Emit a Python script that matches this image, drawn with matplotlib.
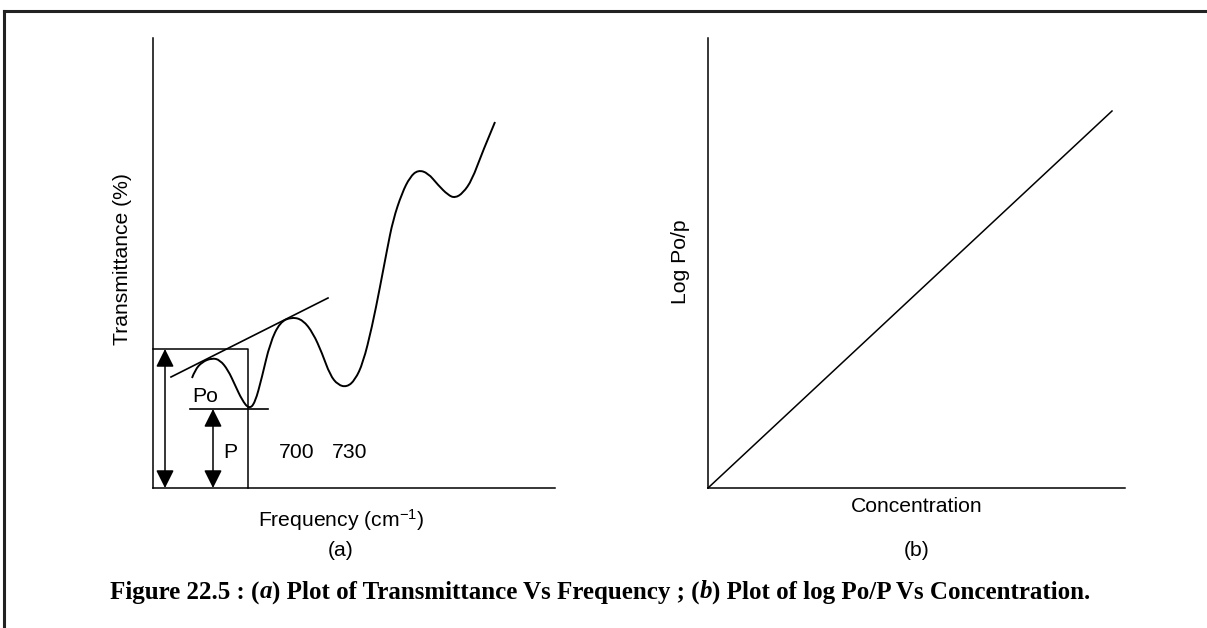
import matplotlib.pyplot as plt
from matplotlib.path import Path
from matplotlib.patches import PathPatch

plt.rcParams['font.family'] = 'Liberation Sans'
plt.rcParams['mathtext.fontset'] = 'custom'
plt.rcParams['mathtext.rm'] = 'Liberation Sans'
plt.rcParams['mathtext.it'] = 'Liberation Sans:italic'

# panel (a): transmittance curve (arbitrary units)
curve_x = [39, 42, 49, 59, 67, 75, 82, 89, 96, 102, 109, 117, 127, 139, 150, 160, 169,
           177, 185, 194, 202, 210, 219, 227, 234, 240, 249, 257, 265, 275, 285, 295,
           302, 310, 319, 329, 342]
curve_t = [110, 118, 126, 130, 128, 118, 103, 88, 79, 85, 111, 145, 166, 171, 168, 155,
           135, 113, 103, 101, 108, 125, 161, 201, 238, 268, 295, 311, 318, 315, 303, 293,
           290, 295, 308, 335, 366]
tangent_x = [18, 175]
tangent_t = [111, 190]
po_level = 139
p_level = 79
box_right = 95
p_line_x = [37, 115]
po_arrow_x = 12
p_arrow_x = 60
wave_labels = ["700", "730"]
wave_label_x = [144, 197]

# panel (b): straight line
conc = [0, 404]
log_ratio = [0, 377]

fig = plt.figure(figsize=(12.07, 6.28), dpi=100)

# frame lines (only top and left edges show)
fig.add_artist(plt.Line2D([4 / 1207, 1], [617 / 628, 617 / 628], color='#222222', lw=2.2,
                          transform=fig.transFigure))
fig.add_artist(plt.Line2D([4 / 1207, 4 / 1207], [0, 617 / 628], color='#222222', lw=2.2,
                          transform=fig.transFigure))

fs = 15.2
lw_ax = 1.1


def bare_axes(rect, xmax):
    ax = fig.add_axes(rect)
    ax.set_xlim(0, xmax)
    ax.set_ylim(0, 450)
    for s in ['top', 'right']:
        ax.spines[s].set_visible(False)
    for s in ['left', 'bottom']:
        ax.spines[s].set_linewidth(lw_ax)
    ax.set_xticks([])
    ax.set_yticks([])
    ax.patch.set_alpha(0)
    return ax


def smooth_path(xs, ys):
    # quadratic bezier through midpoints, the read points act as control points
    pts = list(zip(xs, ys))
    verts = [pts[0]]
    codes = [Path.MOVETO]
    for i in range(1, len(pts) - 1):
        nxt = pts[i + 1] if i == len(pts) - 2 else ((pts[i][0] + pts[i + 1][0]) / 2,
                                                     (pts[i][1] + pts[i + 1][1]) / 2)
        verts += [pts[i], nxt]
        codes += [Path.CURVE3, Path.CURVE3]
    return Path(verts, codes)


# ---- (a)
ax1 = bare_axes([153 / 1207, 140 / 628, 402 / 1207, 450 / 628], 402)
ax1.add_patch(PathPatch(smooth_path(curve_x, curve_t), facecolor='none', edgecolor='black',
                        lw=1.4, clip_on=False))
ax1.plot(tangent_x, tangent_t, color='black', lw=1.2)
ax1.plot([0, box_right, box_right], [po_level, po_level, 0], color='black', lw=lw_ax, clip_on=False)
ax1.plot(p_line_x, [p_level, p_level], color='black', lw=1.2)

arrow = dict(arrowstyle='<|-|>,head_length=0.5,head_width=0.25', color='black', lw=1.1,
             mutation_scale=22, shrinkA=0, shrinkB=0)
ax1.annotate('', xy=(po_arrow_x, po_level), xytext=(po_arrow_x, 0), arrowprops=arrow,
             annotation_clip=False)
ax1.annotate('', xy=(p_arrow_x, p_level), xytext=(p_arrow_x, 0), arrowprops=arrow,
             annotation_clip=False)

ax1.text(52, 91, "Po", fontsize=fs, ha='center', va='center')
ax1.text(77, 35, "P", fontsize=fs, ha='center', va='center')
for lab, xx in zip(wave_labels, wave_label_x):
    ax1.text(xx, 35, lab, fontsize=fs, ha='center', va='center')

ax1.text(-31, 229, "Transmittance (%)", fontsize=fs, rotation=90, ha='center', va='center')
ax1.text(188, -32, r"Frequency (cm$^{-1}$)", fontsize=fs, ha='center', va='center')
ax1.text(188, -62, "(a)", fontsize=fs, ha='center', va='center')

# ---- (b)
ax2 = bare_axes([708 / 1207, 140 / 628, 417 / 1207, 450 / 628], 417)
ax2.plot(conc, log_ratio, color='black', lw=1.1, clip_on=False)
ax2.text(-28, 226, "Log Po/p", fontsize=fs, rotation=90, ha='center', va='center')
ax2.text(209, -19, "Concentration", fontsize=fs, ha='center', va='center')
ax2.text(209, -62, "(b)", fontsize=fs, ha='center', va='center')

# ---- caption with italic a / b
pieces = [("Figure 22.5 : (", 'normal'), ("a", 'italic'),
          (") Plot of Transmittance Vs Frequency ; (", 'normal'), ("b", 'italic'),
          (") Plot of log Po/P Vs Concentration.", 'normal')]
renderer = fig.canvas.get_renderer()
texts = []
widths = []
for s, st in pieces:
    t = fig.text(0, 36 / 628, s, fontsize=18, family='Liberation Serif', weight='bold',
                 style=st, ha='left', va='center')
    texts.append(t)
    widths.append(t.get_window_extent(renderer).width)
x = 600 - sum(widths) / 2
for t, w in zip(texts, widths):
    t.set_x(x / 1207)
    x += w

fig.savefig('out.png', dpi=100)
